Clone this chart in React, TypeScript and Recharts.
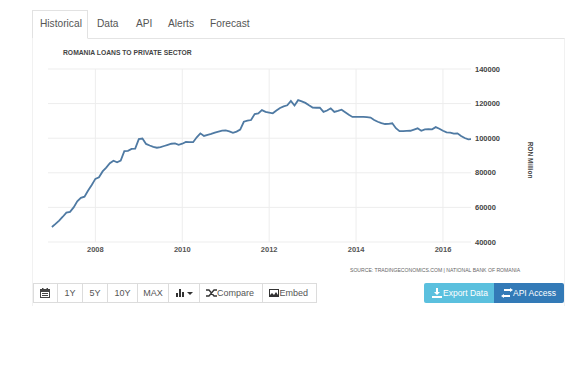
import React from 'react';
import { LineChart, Line, XAxis, YAxis, CartesianGrid, Label } from 'recharts';

const TITLE = 'ROMANIA LOANS TO PRIVATE SECTOR';
const SOURCE = 'SOURCE: TRADINGECONOMICS.COM | NATIONAL BANK OF ROMANIA';
const UNIT = 'RON Million';

const xTicks = [2008, 2010, 2012, 2014, 2016];
const yTicks = [40000, 60000, 80000, 100000, 120000, 140000];

// monthly values, one list per year
const loans2007 = [48700, 50500, 52400, 54600, 57000, 57400, 60000, 63500, 65500, 66200, 69800, 73000];
const loans2008 = [76500, 77400, 80800, 83000, 85500, 87000, 86100, 87000, 92500, 92700, 93800, 94000];
const loans2009 = [99500, 99800, 96700, 95800, 95000, 94500, 94800, 95500, 96200, 96800, 97000, 96200];
const loans2010 = [96800, 97800, 97700, 97700, 100500, 102800, 101300, 101900, 102500, 103200, 103800, 104400];
const loans2011 = [104500, 103900, 103100, 103800, 105000, 109500, 110200, 110500, 113900, 114300, 116200, 115200];
const loans2012 = [114800, 114400, 116000, 117500, 118400, 119000, 121500, 118900, 122000, 121300, 120400, 119000];
const loans2013 = [117700, 117600, 117700, 115200, 116000, 117300, 115200, 115800, 116500, 115000, 113500, 112300];
const loans2014 = [112300, 112300, 112300, 112200, 111900, 110500, 109500, 108700, 108200, 108300, 108600, 105800];
const loans2015 = [104100, 104100, 104200, 104300, 105000, 105700, 104300, 105100, 105300, 105100, 106400, 105500];
const loans2016 = [104300, 103400, 103200, 102700, 102800, 101300, 100100, 99300, 99500];

const years = [2007, 2008, 2009, 2010, 2011, 2012, 2013, 2014, 2015, 2016];
const loansByYear = [loans2007, loans2008, loans2009, loans2010, loans2011, loans2012, loans2013, loans2014, loans2015, loans2016];

const chartData = years.flatMap((year, y) =>
  loansByYear[y].map((value, m) => ({ date: year + m / 12, value }))
);

const tabs = [
  { name: 'Historical', left: 40 },
  { name: 'Data', left: 97 },
  { name: 'API', left: 136 },
  { name: 'Alerts', left: 168 },
  { name: 'Forecast', left: 210 },
];

const toolbar = [
  { name: '', left: 33, width: 24 },
  { name: '1Y', left: 57, width: 25 },
  { name: '5Y', left: 82, width: 25 },
  { name: '10Y', left: 107, width: 30 },
  { name: 'MAX', left: 137, width: 31 },
  { name: '', left: 168, width: 31 },
  { name: 'Compare', left: 199, width: 63 },
  { name: 'Embed', left: 262, width: 54 },
];

const FONT = '"Liberation Sans", Arial, sans-serif';

const abs = (left: number, top: number, extra: React.CSSProperties = {}): React.CSSProperties => ({
  position: 'absolute',
  left,
  top,
  fontFamily: FONT,
  whiteSpace: 'nowrap',
  ...extra,
});

const Icon = ({ left, top, color, children }: any) => (
  <svg width={12} height={12} viewBox="0 0 12 12" style={{ position: 'absolute', left, top }} fill={color}>
    {children}
  </svg>
);

export default function App() {
  return (
    <div style={{ position: 'absolute', left: 0, top: 0, width: 576, height: 367, background: '#fff', overflow: 'hidden' }}>
      {/* panel */}
      <div style={abs(32, 38, { width: 533, height: 268, borderLeft: '1px solid #f1f1f1', borderRight: '1px solid #f1f1f1', borderTop: '1px solid #e4e4e4', boxSizing: 'border-box' })} />
      <div style={abs(32, 10, { width: 56, height: 29, border: '1px solid #e2e2e2', borderBottom: '1px solid #fff', boxSizing: 'border-box', background: '#fff' })} />
      {tabs.map((t) => (
        <div key={t.name} style={abs(t.left, 17, { fontSize: 10.2, lineHeight: '14px', color: '#555' })}>
          {t.name}
        </div>
      ))}

      <div style={{ position: 'absolute', left: 0, top: 0 }}>
        <LineChart width={576} height={367} data={chartData} margin={{ top: 69, right: 45, bottom: 104, left: 48 }}>
          <CartesianGrid stroke="#ededed" verticalValues={xTicks} horizontalValues={yTicks} />
          <XAxis
            dataKey="date"
            type="number"
            domain={[2006.91, 2016.645]}
            ticks={xTicks}
            allowDataOverflow
            height={21}
            axisLine={false}
            tickLine={false}
            tickSize={0}
            tickMargin={5}
            tick={{ fontSize: 7.5, fontFamily: FONT, fontWeight: 700, fill: '#555' }}
          />
          <YAxis
            orientation="right"
            width={60}
            domain={[40000, 140000]}
            ticks={yTicks}
            axisLine={false}
            tickLine={false}
            tickSize={0}
            tickMargin={4}
            tick={{ fontSize: 7.5, fontFamily: FONT, fontWeight: 700, fill: '#444' }}
          >
            <Label value={UNIT} angle={90} position="insideRight" offset={1} dy={23} style={{ fontSize: 6.5, fontFamily: FONT, fontWeight: 700, fill: '#444' }} />
          </YAxis>
          <Line dataKey="value" type="linear" stroke="#4f7aa3" strokeWidth={1.8} dot={false} isAnimationActive={false} />
        </LineChart>
      </div>

      <div style={abs(63, 48, { fontSize: 6.75, lineHeight: '9px', fontWeight: 700, color: '#444' })}>{TITLE}</div>
      <div style={abs(350, 267, { fontSize: 5.1, lineHeight: '7px', color: '#666' })}>{SOURCE}</div>

      {/* toolbar */}
      {toolbar.map((b) => (
        <div
          key={b.left}
          style={abs(b.left, 283, {
            width: b.width + 1,
            height: 20,
            boxSizing: 'border-box',
            border: '1px solid #dcdcdc',
            fontSize: 9,
            lineHeight: '18px',
            color: '#555',
            textAlign: b.name === 'Compare' || b.name === 'Embed' ? 'right' : 'center',
            paddingRight: b.name === 'Compare' || b.name === 'Embed' ? 8 : 0,
            background: '#fff',
          })}
        >
          {b.name}
        </div>
      ))}
      <Icon left={39} top={287} color="#444">
        <path d="M1 2h10v9H1zM2 5v5h8V5z" fillRule="evenodd" />
        <path d="M3 1h1.5v2H3zM7.5 1H9v2H7.5zM3 6h6v1H3zM3 8h6v1H3z" />
      </Icon>
      <Icon left={175} top={287} color="#333">
        <path d="M1 6h2v4H1zM4 2h2v8H4zM7 5h2v5H7z" />
      </Icon>
      <svg width={6} height={4} style={{ position: 'absolute', left: 187, top: 292 }}>
        <path d="M0 0h6L3 3z" fill="#333" />
      </svg>
      <Icon left={206} top={287} color="none">
        <path d="M0 3h3l5 6h3M0 9h3l5-6h3" stroke="#333" strokeWidth={1.3} />
      </Icon>
      <Icon left={268} top={287} color="#333">
        <path d="M1 2h10v8H1zM2 3v5l2-2 2 2 2-3 2 3V3z" fillRule="evenodd" />
      </Icon>

      <div style={abs(424, 283, { width: 70, height: 20, boxSizing: 'border-box', background: '#5bc0de', borderRadius: '2px 0 0 2px', color: '#fff', fontSize: 8.5, lineHeight: '20px', paddingLeft: 19 })}>
        Export Data
      </div>
      <div style={abs(494, 283, { width: 70, height: 20, boxSizing: 'border-box', background: '#337ab7', borderRadius: '0 2px 2px 0', color: '#fff', fontSize: 8.5, lineHeight: '20px', paddingLeft: 19 })}>
        API Access
      </div>
      <Icon left={431} top={287} color="#fff">
        <path d="M5 1h2v4h2L6 8 3 5h2zM1 9h10v2H1z" />
      </Icon>
      <Icon left={501} top={287} color="#fff">
        <path d="M3 2h6V1l3 2-3 2V4H3zM9 8H3V7L0 9l3 2v-1h6z" />
      </Icon>
    </div>
  );
}
